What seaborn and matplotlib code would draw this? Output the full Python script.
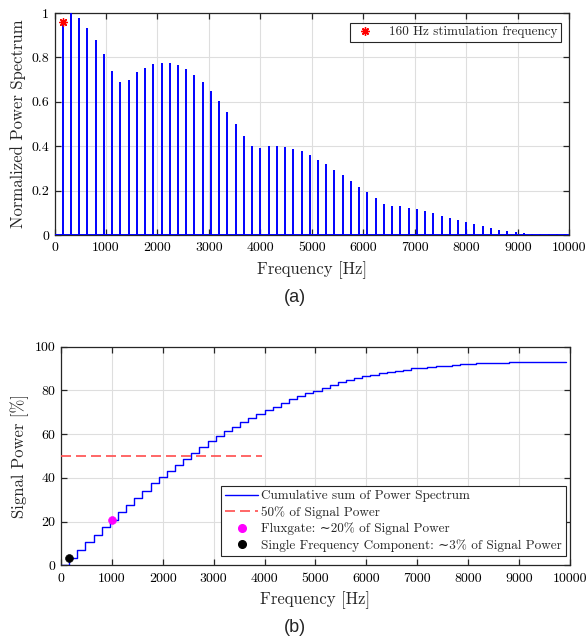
import matplotlib
matplotlib.use("Agg")
import matplotlib.pyplot as plt
from matplotlib.lines import Line2D
import numpy as np
import pandas as pd
import seaborn as sns

# ---------------- data ----------------
freq_hz = [160, 320, 480, 640, 800, 960, 1120, 1280, 1440, 1600, 1760, 1920,
           2080, 2240, 2400, 2560, 2720, 2880, 3040, 3200, 3360, 3520, 3680, 3840,
           4000, 4160, 4320, 4480, 4640, 4800, 4960, 5120, 5280, 5440, 5600, 5760,
           5920, 6080, 6240, 6400, 6560, 6720, 6880, 7040, 7200, 7360, 7520, 7680,
           7840, 8000, 8160, 8320, 8480, 8640, 8800, 8960, 9120, 9280, 9440, 9600,
           9760, 9920]

norm_power = [0.965, 1.000, 0.977, 0.933, 0.877, 0.814, 0.741, 0.690, 0.699, 0.733,
              0.754, 0.769, 0.777, 0.775, 0.765, 0.747, 0.721, 0.688, 0.648, 0.603,
              0.552, 0.499, 0.445, 0.400, 0.391, 0.400, 0.400, 0.396, 0.388, 0.378,
              0.360, 0.340, 0.321, 0.295, 0.271, 0.244, 0.217, 0.192, 0.165, 0.141,
              0.132, 0.130, 0.124, 0.117, 0.108, 0.100, 0.088, 0.079, 0.067, 0.060,
              0.048, 0.040, 0.031, 0.025, 0.019, 0.015, 0.010, 0.007, 0.006, 0.004,
              0.003, 0.003]

cum_start_hz = [0]
cum_start_pct = [0.0]
cum_power_pct = [3.4, 7.1, 10.7, 14.0, 17.4, 20.9, 24.5, 27.6, 30.8, 34.1, 37.5, 40.3,
                 43.2, 46.1, 48.8, 51.5, 54.0, 56.7, 59.0, 61.3, 63.4, 65.4, 67.3, 69.4,
                 71.1, 72.6, 74.4, 75.9, 77.3, 78.7, 79.9, 81.1, 82.4, 83.6, 84.7, 85.6,
                 86.5, 87.2, 87.9, 88.5, 88.9, 89.5, 90.0, 90.4, 90.7, 91.0, 91.3, 91.6,
                 91.9, 92.1, 92.3, 92.45, 92.6, 92.7, 92.8, 92.85, 92.9, 92.95, 93.0, 93.0,
                 93.05, 93.05]

stim_freq_hz = [160]
stim_power = [0.96]

half_power_pct = 50
half_line_end_hz = 3950

fluxgate_hz = [1000]
fluxgate_pct = [20.9]
single_hz = [160]
single_pct = [3.4]

x_ticks = [0, 1000, 2000, 3000, 4000, 5000, 6000, 7000, 8000, 9000, 10000]
top_yticks = [0, 0.2, 0.4, 0.6, 0.8, 1]
top_ylabels = ["0", "0.2", "0.4", "0.6", "0.8", "1"]
bot_yticks = [0, 20, 40, 60, 80, 100]
bot_ylabels = ["0", "20", "40", "60", "80", "100"]

# ---------------- style ----------------
sns.set_theme(style="whitegrid")
plt.rcParams["font.family"] = ["cmr10", "DejaVu Serif"]
plt.rcParams["mathtext.fontset"] = "cm"
plt.rcParams["axes.unicode_minus"] = False
plt.rcParams["axes.formatter.use_mathtext"] = True

AX_COL = "#262626"
GRID_COL = "#dedede"
RED_DASH = "#ff4d4d"

fig = plt.figure(figsize=(5.88, 6.44), dpi=100)
ax1 = fig.add_axes([0.0927, 0.635, 0.8753, 0.3448])
ax2 = fig.add_axes([0.1037, 0.1219, 0.8657, 0.3399])


def style_axes(ax):
    ax.set_facecolor("white")
    for s in ax.spines.values():
        s.set_visible(True)
        s.set_color(AX_COL)
        s.set_linewidth(0.9)
    ax.grid(True, color=GRID_COL, linewidth=0.8)
    ax.tick_params(direction="in", length=4, width=0.9, color=AX_COL,
                   top=True, right=True, bottom=True, left=True,
                   labelsize=10, labelcolor="black")
    ax.tick_params(axis="x", pad=5)
    ax.tick_params(axis="y", pad=4)
    ax.set_axisbelow(True)


# ---------------- (a) spectrum ----------------
df_spec = pd.DataFrame({"f": freq_hz, "p": norm_power})
style_axes(ax1)
ax1.vlines(df_spec["f"], 0, df_spec["p"], color="blue", linewidth=1.4, zorder=3)
ax1.axhline(0, color="blue", linewidth=1.4, zorder=3)
sns.scatterplot(x=stim_freq_hz, y=stim_power, ax=ax1, marker=(8, 2, 0), s=30,
                color="red", edgecolor="red", linewidth=1.0, zorder=4, legend=False)
ax1.set_xlim(0, 10000)
ax1.set_ylim(0, 1)
ax1.set_xticks(x_ticks)
ax1.set_xticklabels([str(t) for t in x_ticks])
ax1.set_yticks(top_yticks)
ax1.set_yticklabels(top_ylabels)
ax1.set_xlabel("Frequency [Hz]", fontsize=12, labelpad=5)
ax1.set_ylabel("Normalized Power Spectrum", fontsize=12, labelpad=4)
h_star = Line2D([], [], linestyle="none", marker=(8, 2, 0), markersize=6,
                color="red", markeredgewidth=1.0)
w1 = 0.8753 * 588
h1 = 0.3448 * 644
leg1 = ax1.legend([h_star], ["160 Hz stimulation frequency"], loc="upper right",
                  bbox_to_anchor=(1 - 8.5 / w1, 1 - 9.7 / h1),
                  fontsize=9.5, frameon=True, fancybox=False, framealpha=1,
                  edgecolor=AX_COL, borderpad=0.25, handletextpad=0.9,
                  borderaxespad=0, handlelength=1.8)
leg1.get_frame().set_linewidth(0.8)

# ---------------- (b) cumulative ----------------
df_cum = pd.DataFrame({"f": cum_start_hz + freq_hz, "c": cum_start_pct + cum_power_pct})
style_axes(ax2)
sns.lineplot(data=df_cum, x="f", y="c", ax=ax2, color="blue", linewidth=1.0,
             drawstyle="steps-post", estimator=None, sort=False, zorder=3)
ax2.hlines(half_power_pct, 0, half_line_end_hz, colors=RED_DASH,
           linestyles=(0, (6, 3)), linewidth=1.2, zorder=3)
sns.scatterplot(x=fluxgate_hz, y=fluxgate_pct, ax=ax2, color="magenta", s=32,
                edgecolor="magenta", zorder=4, legend=False)
sns.scatterplot(x=single_hz, y=single_pct, ax=ax2, color="black", s=32,
                edgecolor="black", zorder=4, legend=False)
ax2.set_xlim(0, 10000)
ax2.set_ylim(0, 100)
ax2.set_xticks(x_ticks)
ax2.set_xticklabels([str(t) for t in x_ticks])
ax2.set_yticks(bot_yticks)
ax2.set_yticklabels(bot_ylabels)
ax2.set_xlabel("Frequency [Hz]", fontsize=12, labelpad=5)
ax2.set_ylabel("Signal Power [%]", fontsize=12, labelpad=4)

handles = [
    Line2D([], [], color="blue", linewidth=1.0),
    Line2D([], [], color=RED_DASH, linewidth=1.2, linestyle=(0, (6, 3))),
    Line2D([], [], linestyle="none", marker="o", markersize=5.5, color="magenta"),
    Line2D([], [], linestyle="none", marker="o", markersize=5.5, color="black"),
]
labels = [
    "Cumulative sum of Power Spectrum",
    "50% of Signal Power",
    "Fluxgate: \u223c20% of Signal Power",
    "Single Frequency Component: \u223c3% of Signal Power",
]
w2 = 0.8657 * 588
h2 = 0.3399 * 644
leg2 = ax2.legend(handles, labels, loc="lower right",
                  bbox_to_anchor=(1 - 4 / w2, 9.5 / h2),
                  fontsize=9.5, frameon=True,
                  fancybox=False, framealpha=1, edgecolor=AX_COL, borderpad=0.3,
                  handletextpad=0.25, borderaxespad=0, handlelength=2.5,
                  labelspacing=0.3)
leg2.get_frame().set_linewidth(0.8)

# ---------------- captions ----------------
fig.text(0.5017, 1 - 298 / 644, "(a)", family="Liberation Sans", fontsize=13,
         ha="center", va="center")
fig.text(0.5017, 1 - 628 / 644, "(b)", family="Liberation Sans", fontsize=13,
         ha="center", va="center")

fig.savefig("out.png", dpi=100)
